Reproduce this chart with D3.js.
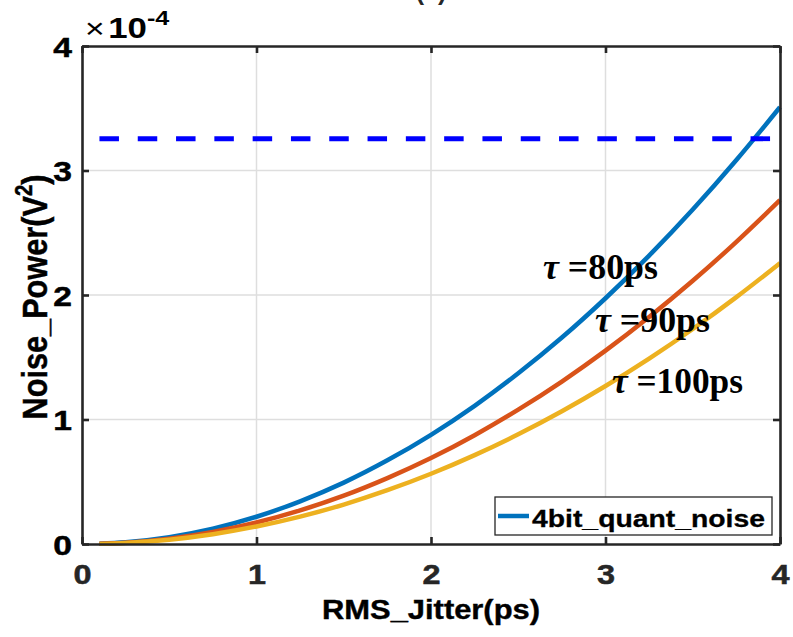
<!DOCTYPE html>
<html>
<head>
<meta charset="utf-8">
<script src="https://cdn.jsdelivr.net/npm/d3@7"></script>
<style>
  html, body { margin: 0; padding: 0; background: #fff; }
  svg { display: block; }
</style>
</head>
<body>
<svg id="chart" width="793" height="637"></svg>
<script>
// RMS jitter (ps) sample points
const jitter = [0.1, 0.25, 0.5, 0.75, 1.0, 1.25, 1.5, 1.75, 2.0, 2.25, 2.5, 2.75, 3.0, 3.25, 3.5, 3.75, 4.0];

// Noise power (x 1e-4 V^2) for each time constant
const noiseTau80  = [0.002, 0.014, 0.055, 0.123, 0.219, 0.343, 0.493, 0.672, 0.877, 1.110, 1.371, 1.658, 1.974, 2.316, 2.686, 3.084, 3.509];
const noiseTau90  = [0.002, 0.011, 0.043, 0.097, 0.173, 0.270, 0.388, 0.529, 0.690, 0.874, 1.079, 1.305, 1.553, 1.823, 2.114, 2.427, 2.762];
const noiseTau100 = [0.001, 0.009, 0.035, 0.079, 0.141, 0.220, 0.317, 0.432, 0.564, 0.714, 0.881, 1.066, 1.269, 1.489, 1.727, 1.983, 2.256];

// 4-bit quantization noise level (x 1e-4 V^2) and its x extent
const quantNoise = 3.2552;
const quantSpan = [0.1, 4.0];

const seriesNames = ["\u03c4 =80ps", "\u03c4 =90ps", "\u03c4 =100ps"];
const seriesColors = ["#0072BD", "#D95319", "#EDB120"];

const xTicks = [0, 1, 2, 3, 4];
const yTicks = [0, 1, 2, 3, 4];

const svg = d3.select("#chart");
const L = 82, R = 780, T = 46, B = 544;
const x = d3.scaleLinear().domain([0, 4]).range([L, R]);
const y = d3.scaleLinear().domain([0, 4]).range([B, T]);

const axisColor = "#262626";
const sans = "'Liberation Sans', Arial, Helvetica, sans-serif";
const serif = "'Liberation Serif', 'Times New Roman', serif";
const SX = 1.2; // horizontal glyph stretch of the labels

// grid
const grid = svg.append("g");
grid.selectAll("line.gx").data(xTicks.slice(1, -1)).join("line")
  .attr("x1", d => x(d)).attr("x2", d => x(d)).attr("y1", T).attr("y2", B)
  .attr("stroke", "#dedede").attr("stroke-width", 1.5);
grid.selectAll("line.gy").data(yTicks.slice(1, -1)).join("line")
  .attr("y1", d => y(d)).attr("y2", d => y(d)).attr("x1", L).attr("x2", R)
  .attr("stroke", "#dedede").attr("stroke-width", 1.5);

// curves
const line = d3.line().x((d, i) => x(jitter[i])).y(d => y(d)).curve(d3.curveMonotoneX);
[noiseTau80, noiseTau90, noiseTau100].forEach((vals, i) => {
  svg.append("path").datum(vals)
    .attr("d", line)
    .attr("fill", "none")
    .attr("stroke", seriesColors[i])
    .attr("stroke-width", 4.5);
});

// quantization noise level
svg.append("line")
  .attr("x1", x(quantSpan[0])).attr("x2", x(quantSpan[1]))
  .attr("y1", y(quantNoise)).attr("y2", y(quantNoise))
  .attr("stroke", "#0000FF").attr("stroke-width", 4.8)
  .attr("stroke-dasharray", "19.5,18.8");

// axes
function styleAxis(g) {
  g.select(".domain").attr("stroke", axisColor).attr("stroke-width", 2.6);
  g.selectAll(".tick line").attr("stroke", axisColor).attr("stroke-width", 2.6);
}
const xAxis = svg.append("g").attr("transform", `translate(0,${B})`)
  .call(d3.axisBottom(x).tickValues(xTicks).tickSizeInner(-7).tickSizeOuter(0).tickFormat(d3.format("d")));
styleAxis(xAxis);
xAxis.selectAll(".tick text")
  .attr("y", 40).attr("dy", 0)
  .attr("font-family", sans).attr("font-weight", "bold").attr("font-size", 27)
  .attr("fill", axisColor).attr("stroke", axisColor).attr("stroke-width", 0.5)
  .attr("transform", `scale(${SX},1)`);

const yAxis = svg.append("g").attr("transform", `translate(${L},0)`)
  .call(d3.axisLeft(y).tickValues(yTicks).tickSizeInner(-7).tickSizeOuter(0).tickFormat(d3.format("d")));
styleAxis(yAxis);
yAxis.selectAll(".tick text")
  .attr("x", -10 / SX).attr("dy", "0.36em")
  .attr("font-family", sans).attr("font-weight", "bold").attr("font-size", 28)
  .attr("fill", "#000").attr("stroke", "#000").attr("stroke-width", 0.5)
  .attr("transform", `scale(${SX},1)`);

const topAxis = svg.append("g").attr("transform", `translate(0,${T})`)
  .call(d3.axisTop(x).tickValues(xTicks).tickSizeInner(-7).tickSizeOuter(0).tickFormat(""));
styleAxis(topAxis);
const rightAxis = svg.append("g").attr("transform", `translate(${R},0)`)
  .call(d3.axisRight(y).tickValues(yTicks).tickSizeInner(-7).tickSizeOuter(0).tickFormat(""));
styleAxis(rightAxis);

// exponent marker
const expo = svg.append("text")
  .attr("transform", `translate(85,38) scale(1.2,1)`)
  .attr("font-family", sans).attr("fill", "#000");
expo.append("tspan").attr("font-size", 28).text("\u00d7");
expo.append("tspan").attr("font-size", 29).attr("font-weight", "bold").attr("dx", 3).text("10");
expo.append("tspan").attr("font-size", 21).attr("font-weight", "bold").attr("dy", -13).text("-4");

// title
svg.append("text")
  .attr("x", 431).attr("y", 0).attr("text-anchor", "middle")
  .attr("font-family", sans).attr("font-weight", "bold").attr("font-size", 25)
  .attr("fill", axisColor).text("(a)");

// axis titles
svg.append("text")
  .attr("x", 431).attr("y", 619).attr("text-anchor", "middle")
  .attr("font-family", sans).attr("font-weight", "bold").attr("font-size", 27)
  .attr("fill", "#000").attr("stroke", "#000").attr("stroke-width", 0.4)
  .attr("textLength", 218).attr("lengthAdjust", "spacingAndGlyphs")
  .text("RMS_Jitter(ps)");

const yl = svg.append("text")
  .attr("transform", "translate(47,297) rotate(-90) scale(1,1.18)")
  .attr("text-anchor", "middle")
  .attr("font-family", sans).attr("font-weight", "bold").attr("font-size", 30)
  .attr("fill", "#000").attr("stroke", "#000").attr("stroke-width", 0.4)
  .attr("textLength", 245).attr("lengthAdjust", "spacingAndGlyphs");
yl.append("tspan").text("Noise_Power(V");
yl.append("tspan").attr("font-size", 20).attr("dy", -13).text("2");
yl.append("tspan").attr("dy", 13).text(")");

// series annotations
const notes = [
  { x: 543, y: 279, w: 115 },
  { x: 595, y: 332, w: 115 },
  { x: 612, y: 393, w: 131 }
];
notes.forEach((n, i) => {
  const t = svg.append("text")
    .attr("x", n.x).attr("y", n.y)
    .attr("font-family", serif).attr("font-weight", "bold").attr("font-size", 35)
    .attr("fill", "#000").attr("textLength", n.w).attr("lengthAdjust", "spacingAndGlyphs");
  const label = seriesNames[i];
  t.append("tspan").attr("font-style", "italic").text(label.charAt(0));
  t.append("tspan").text(label.slice(1));
});

// legend
const lg = svg.append("g");
lg.append("rect").attr("x", 495).attr("y", 497).attr("width", 277).attr("height", 38)
  .attr("fill", "#fff").attr("stroke", axisColor).attr("stroke-width", 1.3);
lg.append("line").attr("x1", 498).attr("x2", 529).attr("y1", 516).attr("y2", 516)
  .attr("stroke", seriesColors[0]).attr("stroke-width", 4.5);
lg.append("text").attr("x", 532).attr("y", 527)
  .attr("font-family", sans).attr("font-weight", "bold").attr("font-size", 24)
  .attr("fill", "#000").attr("stroke", "#000").attr("stroke-width", 0.3)
  .attr("textLength", 233).attr("lengthAdjust", "spacingAndGlyphs")
  .text("4bit_quant_noise");
</script>
</body>
</html>
